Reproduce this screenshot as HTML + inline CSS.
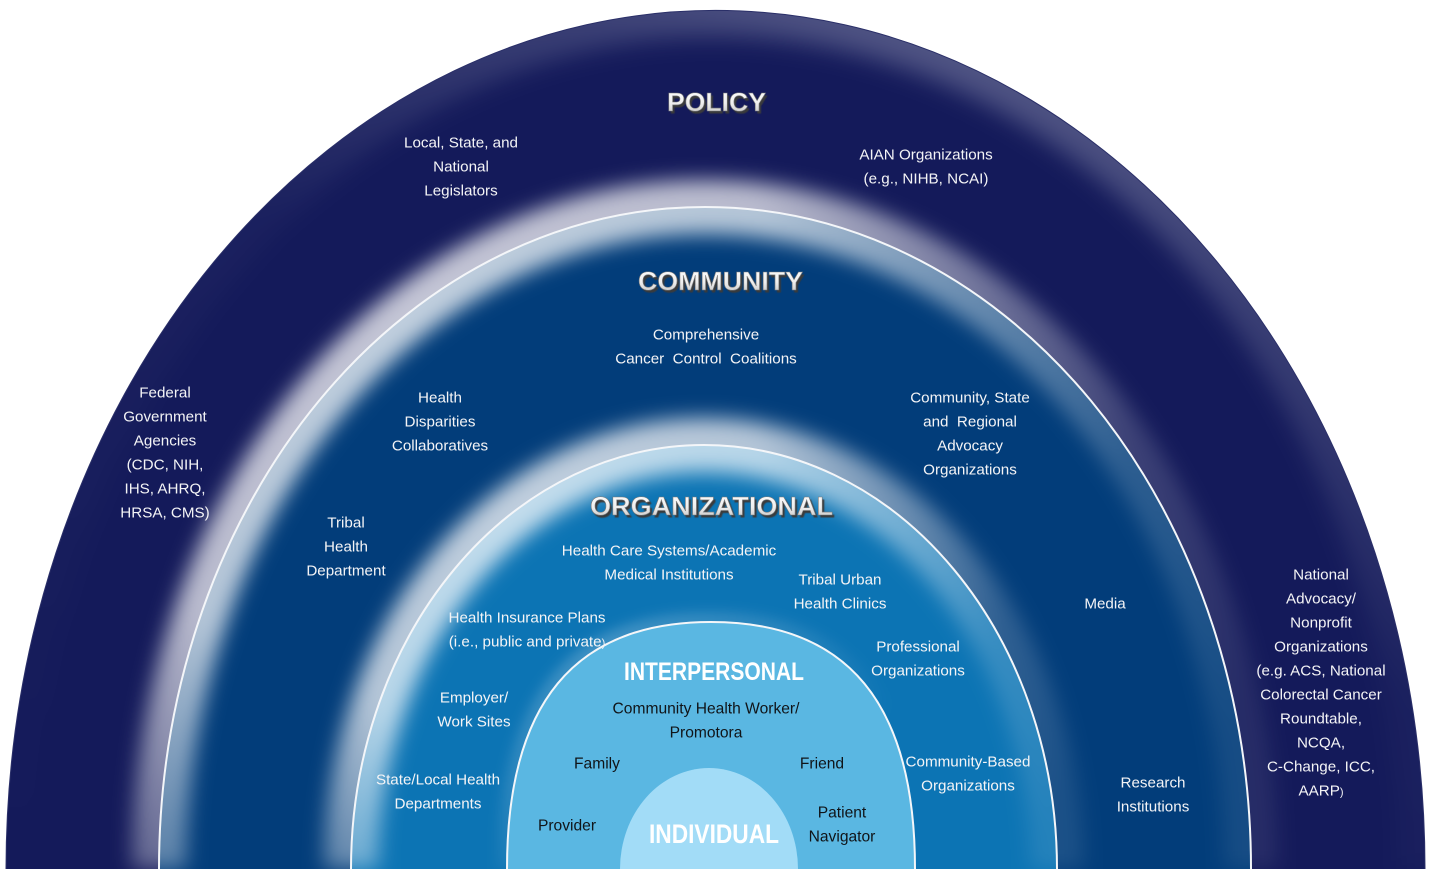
<!DOCTYPE html>
<html>
<head>
<meta charset="utf-8">
<style>
  html,body{margin:0;padding:0;background:#ffffff;}
  svg{display:block;}
  .lbl{font-family:"Liberation Sans",Arial,sans-serif;font-size:15.2px;fill:#f4f4f6;text-anchor:middle;white-space:pre;}
  .dk{font-family:"Liberation Sans",Arial,sans-serif;font-size:15.6px;fill:#101418;text-anchor:middle;white-space:pre;}
  .ttl{font-family:"Liberation Sans",Arial,sans-serif;font-weight:bold;font-size:26px;text-anchor:middle;}
  .ttlw{font-family:"Liberation Sans",Arial,sans-serif;font-weight:bold;text-anchor:middle;fill:#ffffff;}
</style>
</head>
<body>
<svg width="1430" height="875" viewBox="0 0 1430 875" xmlns="http://www.w3.org/2000/svg">
  <defs>
    <clipPath id="cpPolicy">
      <path d="M6 869 A709.5 859 0 0 1 1425 869 Z"/>
    </clipPath>
    <filter id="blur10" filterUnits="userSpaceOnUse" x="-100" y="-100" width="1630" height="1075">
      <feGaussianBlur stdDeviation="10"/>
    </filter>
    <filter id="blur12" filterUnits="userSpaceOnUse" x="-100" y="-100" width="1630" height="1075">
      <feGaussianBlur stdDeviation="12"/>
    </filter>
    <filter id="blur6" filterUnits="userSpaceOnUse" x="-100" y="-100" width="1630" height="1075">
      <feGaussianBlur stdDeviation="6"/>
    </filter>
    <filter id="sh" x="-10%" y="-30%" width="120%" height="160%">
      <feGaussianBlur stdDeviation="0.6"/>
    </filter>
    <radialGradient id="gCom" gradientUnits="userSpaceOnUse" cx="420" cy="330" r="900">
      <stop offset="0" stop-color="#ffffff" stop-opacity="0.75"/>
      <stop offset="0.4" stop-color="#ffffff" stop-opacity="0.7"/>
      <stop offset="0.65" stop-color="#ffffff" stop-opacity="0.36"/>
      <stop offset="0.8" stop-color="#ffffff" stop-opacity="0.17"/>
      <stop offset="1" stop-color="#ffffff" stop-opacity="0.08"/>
    </radialGradient>
    <radialGradient id="gOrg" gradientUnits="userSpaceOnUse" cx="530" cy="520" r="600">
      <stop offset="0" stop-color="#ffffff" stop-opacity="0.75"/>
      <stop offset="0.4" stop-color="#ffffff" stop-opacity="0.7"/>
      <stop offset="0.65" stop-color="#ffffff" stop-opacity="0.38"/>
      <stop offset="0.8" stop-color="#ffffff" stop-opacity="0.18"/>
      <stop offset="1" stop-color="#ffffff" stop-opacity="0.1"/>
    </radialGradient>
    <radialGradient id="gInt" gradientUnits="userSpaceOnUse" cx="600" cy="640" r="300">
      <stop offset="0" stop-color="#ffffff" stop-opacity="0.22"/>
      <stop offset="0.6" stop-color="#ffffff" stop-opacity="0.12"/>
      <stop offset="1" stop-color="#ffffff" stop-opacity="0.0"/>
    </radialGradient>
    <linearGradient id="gOut" gradientUnits="objectBoundingBox" x1="0" y1="1" x2="0.7" y2="0">
      <stop offset="0" stop-color="#ffffff" stop-opacity="0"/>
      <stop offset="0.6" stop-color="#ffffff" stop-opacity="0.03"/>
      <stop offset="0.85" stop-color="#ffffff" stop-opacity="0.16"/>
      <stop offset="1" stop-color="#ffffff" stop-opacity="0.3"/>
    </linearGradient>
    <linearGradient id="tg" x1="0" y1="0" x2="0" y2="1">
      <stop offset="0" stop-color="#ffffff"/>
      <stop offset="0.55" stop-color="#eeeeee"/>
      <stop offset="1" stop-color="#bdbdbd"/>
    </linearGradient>
  </defs>

  <!-- Filled regions -->
  <path d="M6 869 A709.5 859 0 0 1 1425 869 Z" fill="#141a5a"/>
  <path d="M159 869 A546 662 0 0 1 1251 869 Z" fill="#023d7a"/>
  <path d="M351 869 A353 424 0 0 1 1057 869 Z" fill="#0c74b4"/>

  <!-- Glows -->
  <g clip-path="url(#cpPolicy)">
    <path d="M6 869 A709.5 859 0 0 1 1425 869" fill="none" stroke="url(#gOut)" stroke-width="52" filter="url(#blur12)"/>
    <path d="M159 869 A546 662 0 0 1 1251 869" fill="none" stroke="url(#gCom)" stroke-width="54" filter="url(#blur10)"/>
    <path d="M351 869 A353 424 0 0 1 1057 869" fill="none" stroke="url(#gOrg)" stroke-width="54" filter="url(#blur10)"/>
    <path d="M507 869 C507 703.5 574.3 622 711 622 C847.7 622 915 703.5 915 869" fill="none" stroke="url(#gInt)" stroke-width="20" filter="url(#blur6)"/>
  </g>
  <!-- interpersonal & individual flat fills -->
  <path d="M507 869 C507 703.5 574.3 622 711 622 C847.7 622 915 703.5 915 869 Z" fill="#5ab7e2"/>
  <path d="M620 869 A89 101 0 0 1 798 869 Z" fill="#a2dcf7"/>

  <!-- Boundary lines -->
  <path d="M6 869 A709.5 859 0 0 1 1425 869" fill="none" stroke="#2a2f68" stroke-width="1"/>
  <path d="M159 869 A546 662 0 0 1 1251 869" fill="none" stroke="#f4f6f9" stroke-width="2"/>
  <path d="M351 869 A353 424 0 0 1 1057 869" fill="none" stroke="#f4f6f9" stroke-width="2"/>
  <path d="M507 869 C507 703.5 574.3 622 711 622 C847.7 622 915 703.5 915 869" fill="none" stroke="#f4f6f9" stroke-width="2"/>
  <rect x="0" y="869" width="1430" height="6" fill="#ffffff"/>

  <!-- Titles -->
  <g>
    <text class="ttl" x="718.5" y="113.5" textLength="99" lengthAdjust="spacingAndGlyphs" fill="#3a3a3a" filter="url(#sh)">POLICY</text>
    <text class="ttl" x="716.5" y="111" textLength="99" lengthAdjust="spacingAndGlyphs" fill="url(#tg)" stroke="#7a7a7a" stroke-width="0.6">POLICY</text>

    <text class="ttl" x="722.5" y="292.5" textLength="165" lengthAdjust="spacingAndGlyphs" fill="#3a3a3a" filter="url(#sh)">COMMUNITY</text>
    <text class="ttl" x="720.5" y="290" textLength="165" lengthAdjust="spacingAndGlyphs" fill="url(#tg)" stroke="#7a7a7a" stroke-width="0.6">COMMUNITY</text>

    <text class="ttl" x="713.5" y="517.5" textLength="243" lengthAdjust="spacingAndGlyphs" fill="#3a3a3a" filter="url(#sh)">ORGANIZATIONAL</text>
    <text class="ttl" x="711.5" y="515" textLength="243" lengthAdjust="spacingAndGlyphs" fill="url(#tg)" stroke="#7a7a7a" stroke-width="0.6">ORGANIZATIONAL</text>

    <text class="ttlw" x="714" y="680" font-size="25" textLength="180" lengthAdjust="spacingAndGlyphs">INTERPERSONAL</text>
    <text class="ttlw" x="714" y="843" font-size="27" textLength="130" lengthAdjust="spacingAndGlyphs" fill="#f6fbff">INDIVIDUAL</text>
  </g>

  <!-- Policy labels -->
  <text class="lbl" x="461" y="147.5">Local, State, and</text>
  <text class="lbl" x="461" y="171.5">National</text>
  <text class="lbl" x="461" y="195.5">Legislators</text>

  <text class="lbl" x="926" y="159.5">AIAN Organizations</text>
  <text class="lbl" x="926" y="183.5">(e.g., NIHB, NCAI)</text>

  <text class="lbl" x="165" y="397.5">Federal</text>
  <text class="lbl" x="165" y="421.5">Government</text>
  <text class="lbl" x="165" y="445.5">Agencies</text>
  <text class="lbl" x="165" y="469.5">(CDC, NIH,</text>
  <text class="lbl" x="165" y="493.5">IHS, AHRQ,</text>
  <text class="lbl" x="165" y="517.5">HRSA, CMS)</text>

  <text class="lbl" x="1321" y="579.5">National</text>
  <text class="lbl" x="1321" y="603.5">Advocacy/</text>
  <text class="lbl" x="1321" y="627.5">Nonprofit</text>
  <text class="lbl" x="1321" y="651.5">Organizations</text>
  <text class="lbl" x="1321" y="675.5">(e.g. ACS, National</text>
  <text class="lbl" x="1321" y="699.5">Colorectal Cancer</text>
  <text class="lbl" x="1321" y="723.5">Roundtable,</text>
  <text class="lbl" x="1321" y="747.5">NCQA,</text>
  <text class="lbl" x="1321" y="771.5">C-Change, ICC,</text>
  <text class="lbl" x="1321" y="795.5">AARP<tspan font-size="11">)</tspan></text>

  <!-- Community labels -->
  <text class="lbl" x="706" y="339.5">Comprehensive</text>
  <text class="lbl" x="706" y="363.5">Cancer&#160; Control&#160; Coalitions</text>

  <text class="lbl" x="440" y="402.5">Health</text>
  <text class="lbl" x="440" y="426.5">Disparities</text>
  <text class="lbl" x="440" y="450.5">Collaboratives</text>

  <text class="lbl" x="970" y="402.5">Community, State</text>
  <text class="lbl" x="970" y="426.5">and&#160; Regional</text>
  <text class="lbl" x="970" y="450.5">Advocacy</text>
  <text class="lbl" x="970" y="474.5">Organizations</text>

  <text class="lbl" x="346" y="527.5">Tribal</text>
  <text class="lbl" x="346" y="551.5">Health</text>
  <text class="lbl" x="346" y="575.5">Department</text>

  <text class="lbl" x="1105" y="608.5">Media</text>

  <text class="lbl" x="1153" y="787.5">Research</text>
  <text class="lbl" x="1153" y="811.5">Institutions</text>

  <!-- Organizational labels -->
  <text class="lbl" x="669" y="555.5">Health Care Systems/Academic</text>
  <text class="lbl" x="669" y="579.5">Medical Institutions</text>

  <text class="lbl" x="840" y="584.5">Tribal Urban</text>
  <text class="lbl" x="840" y="608.5">Health Clinics</text>

  <text class="lbl" x="527" y="622.5">Health Insurance Plans</text>
  <text class="lbl" x="527" y="646.5">(i.e., public and private<tspan font-size="11">)</tspan></text>

  <text class="lbl" x="918" y="651.5">Professional</text>
  <text class="lbl" x="918" y="675.5">Organizations</text>

  <text class="lbl" x="474" y="702.5">Employer/</text>
  <text class="lbl" x="474" y="726.5">Work Sites</text>

  <text class="lbl" x="438" y="784.5">State/Local Health</text>
  <text class="lbl" x="438" y="808.5">Departments</text>

  <text class="lbl" x="968" y="766.5">Community-Based</text>
  <text class="lbl" x="968" y="790.5">Organizations</text>

  <!-- Interpersonal labels -->
  <text class="dk" x="706" y="713.5">Community Health Worker/</text>
  <text class="dk" x="706" y="737.5">Promotora</text>
  <text class="dk" x="597" y="768.5">Family</text>
  <text class="dk" x="822" y="768.5">Friend</text>
  <text class="dk" x="567" y="830.5">Provider</text>
  <text class="dk" x="842" y="817.5">Patient</text>
  <text class="dk" x="842" y="841.5">Navigator</text>
</svg>
</body>
</html>
